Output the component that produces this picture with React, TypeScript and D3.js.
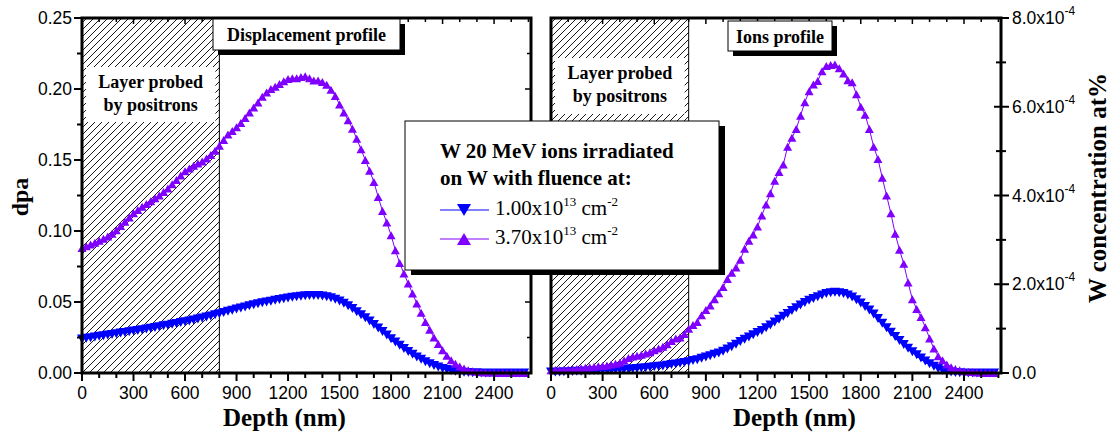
import React from 'react';
import * as d3 from 'd3';

// ---------- data ----------
const depth = [0,25,50,75,100,125,150,175,200,225,250,275,300,325,350,375,400,425,450,475,500,525,550,575,600,625,650,675,700,725,750,775,800,825,850,875,900,925,950,975,1000,1025,1050,1075,1100,1125,1150,1175,1200,1225,1250,1275,1300,1325,1350,1375,1400,1425,1450,1475,1500,1525,1550,1575,1600,1625,1650,1675,1700,1725,1750,1775,1800,1825,1850,1875,1900,1925,1950,1975,2000,2025,2050,2075,2100,2125,2150,2175,2200,2225,2250,2275,2300,2325,2350,2375,2400,2425,2450,2475,2500,2525,2550,2575];

// dpa, fluence 1.00e13
const dpaLow = [
  0.0240,0.0244,0.0249,0.0253,0.0258,0.0262,0.0267,0.0271,0.0276,0.0281,
  0.0286,0.0290,0.0295,0.0300,0.0305,0.0310,0.0315,0.0321,0.0326,0.0332,
  0.0337,0.0343,0.0349,0.0355,0.0361,0.0367,0.0374,0.0380,0.0387,0.0394,
  0.0402,0.0410,0.0418,0.0426,0.0434,0.0442,0.0450,0.0458,0.0465,0.0473,
  0.0480,0.0487,0.0494,0.0500,0.0506,0.0512,0.0518,0.0523,0.0528,0.0533,
  0.0537,0.0541,0.0544,0.0546,0.0546,0.0545,0.0542,0.0537,0.0530,0.0520,
  0.0507,0.0492,0.0474,0.0454,0.0432,0.0410,0.0389,0.0366,0.0342,0.0317,
  0.0292,0.0267,0.0242,0.0218,0.0195,0.0173,0.0152,0.0132,0.0113,0.0096,
  0.0080,0.0066,0.0053,0.0042,0.0032,0.0024,0.0017,0.0012,0.0008,0.0005,
  0.0003,0.0002,0.0001,0,0,0,0,0,0,0,
  0,0,0,0];
// dpa, fluence 3.70e13
const dpaHigh = [
  0.0880,0.0892,0.0905,0.0918,0.0932,0.0946,0.0962,0.0980,0.1005,0.1035,
  0.1065,0.1095,0.1125,0.1148,0.1170,0.1190,0.1210,0.1230,0.1250,0.1275,
  0.1300,0.1330,0.1360,0.1390,0.1420,0.1440,0.1460,0.1475,0.1490,0.1510,
  0.1535,0.1565,0.1600,0.1640,0.1680,0.1705,0.1730,0.1760,0.1795,0.1835,
  0.1870,0.1905,0.1945,0.1975,0.2000,0.2015,0.2035,0.2055,0.2070,0.2075,
  0.2075,0.2085,0.2090,0.2075,0.2060,0.2060,0.2050,0.2030,0.1995,0.1950,
  0.1890,0.1835,0.1780,0.1720,0.1650,0.1575,0.1500,0.1425,0.1345,0.1240,
  0.1140,0.1060,0.0970,0.0865,0.0775,0.0700,0.0630,0.0560,0.0490,0.0425,
  0.0360,0.0305,0.0250,0.0205,0.0160,0.0122,0.0090,0.0065,0.0045,0.0031,
  0.0020,0.0013,0.0008,0.0005,0.0003,0.0002,0.0001,0,0,0,
  0,0,0,0];
// W concentration (x1e-4 at%), fluence 1.00e13
const ionsLow = [
  0.02,0.02,0.025,0.03,0.03,0.035,0.04,0.04,0.045,0.05,
  0.05,0.055,0.06,0.065,0.07,0.075,0.08,0.085,0.09,0.095,
  0.10,0.11,0.12,0.13,0.14,0.15,0.16,0.175,0.19,0.205,
  0.22,0.235,0.255,0.28,0.30,0.33,0.36,0.39,0.42,0.45,
  0.49,0.54,0.59,0.65,0.71,0.76,0.81,0.86,0.91,0.96,
  1.02,1.08,1.15,1.21,1.28,1.34,1.41,1.47,1.53,1.59,
  1.64,1.68,1.72,1.76,1.79,1.81,1.82,1.81,1.79,1.76,
  1.71,1.65,1.58,1.50,1.42,1.33,1.23,1.12,1.02,0.92,
  0.82,0.73,0.64,0.56,0.48,0.41,0.34,0.27,0.21,0.15,
  0.10,0.06,0.035,0.02,0.01,0.005,0,0,0,0,
  0,0,0,0];
// W concentration (x1e-4 at%), fluence 3.70e13
const ionsHigh = [
  0.06,0.065,0.07,0.075,0.08,0.085,0.09,0.10,0.12,0.13,
  0.14,0.15,0.16,0.17,0.19,0.21,0.23,0.28,0.34,0.37,
  0.39,0.41,0.44,0.47,0.51,0.55,0.59,0.65,0.72,0.78,
  0.80,0.88,1.00,1.08,1.15,1.30,1.42,1.52,1.66,1.80,
  1.94,2.12,2.26,2.38,2.55,2.80,2.98,3.12,3.30,3.55,
  3.80,4.05,4.33,4.53,4.70,5.10,5.30,5.50,5.80,6.10,
  6.35,6.50,6.58,6.80,6.92,6.94,6.95,6.87,6.75,6.60,
  6.55,6.28,6.00,5.82,5.50,5.10,4.82,4.40,4.00,3.60,
  3.14,2.78,2.46,2.04,1.66,1.44,1.26,1.03,0.78,0.55,
  0.38,0.29,0.19,0.13,0.09,0.06,0.04,0.03,0.02,0.01,
  0.005,0,0,0];

const xTicks = [0,300,600,900,1200,1500,1800,2100,2400];
const xMinor = [0,100,200,300,400,500,600,700,800,900,1000,1100,1200,1300,1400,1500,1600,1700,1800,1900,2000,2100,2200,2300,2400,2500,2600];
const dpaTicks = [0,0.05,0.10,0.15,0.20,0.25];
const dpaTickLabels = ['0.00','0.05','0.10','0.15','0.20','0.25'];
const dpaMinor = [0.025,0.075,0.125,0.175,0.225];
const ionTicks = [0,2,4,6,8];
const ionTickLabels = ['0.0','2.0x10','4.0x10','6.0x10','8.0x10'];
const ionMinor = [1,3,5,7];
const probedDepth = 800;
const legendTitle = ['W 20 MeV ions irradiated','on W with fluence at:'];
const legendNames = ['1.00x10','3.70x10'];

// ---------- layout ----------
const SERIF = "'Liberation Serif','Times New Roman',serif";
const SANS = "'Liberation Sans',Arial,sans-serif";
const BLUE = '#0000ff';
const PURPLE = '#8000ff';
const Y0 = 18, Y1 = 373;
const XMAX = 2615;

function tri(x: number, y: number, up: boolean, w = 9, h = 8) {
  const a = w / 2, b = h / 2;
  return up
    ? `M${x - a},${y + b}L${x + a},${y + b}L${x},${y - b}Z`
    : `M${x - a},${y - b}L${x + a},${y - b}L${x},${y + b}Z`;
}

function Panel({ x0, x1, yScale, lowVals, highVals, rightAxis, labelY }: any) {
  const xs = d3.scaleLinear().domain([0, XMAX]).range([x0, x1]);
  const hx = xs(probedDepth);
  const line = d3.line<number>().x((_, i) => xs(depth[i])).y(d => yScale(d));
  const markers = (vals: number[], up: boolean, w: number, h: number) =>
    vals.map((v, i) => tri(xs(depth[i]), yScale(v), up, w, h)).join('');
  const minorY = rightAxis ? ionMinor : dpaMinor;
  const majorY = rightAxis ? ionTicks : dpaTicks;
  return (
    <g>
      <rect x={x0} y={Y0} width={hx - x0} height={Y1 - Y0} fill="url(#hatch)" stroke="#000" strokeWidth={1} />
      <rect x={x0 + 4} y={labelY[0]} width={hx - x0 - 8} height={labelY[1] - labelY[0]} fill="#fff" />
      <text x={(x0 + hx) / 2} y={labelY[0] + 21} textAnchor="middle" fontFamily={SERIF} fontWeight="bold" fontSize={18}>Layer probed</text>
      <text x={(x0 + hx) / 2} y={labelY[0] + 44} textAnchor="middle" fontFamily={SERIF} fontWeight="bold" fontSize={18}>by positrons</text>

      <path d={line(lowVals) || ''} fill="none" stroke={BLUE} strokeWidth={1} />
      <path d={markers(lowVals, false, 10, 9)} fill={BLUE} />
      <path d={line(highVals) || ''} fill="none" stroke={PURPLE} strokeWidth={1} />
      <path d={markers(highVals, true, 9, 8)} fill={PURPLE} />

      {/* frame */}
      <rect x={x0} y={Y0} width={x1 - x0} height={Y1 - Y0} fill="none" stroke="#000" strokeWidth={3} />
      {xMinor.filter(t => t <= XMAX).map(t => {
        const major = xTicks.includes(t);
        return (
          <g key={t}>
            <line x1={xs(t)} x2={xs(t)} y1={Y1} y2={Y1 + (major ? 8 : 5)} stroke="#000" strokeWidth={2} />
            <line x1={xs(t)} x2={xs(t)} y1={Y0} y2={Y0 + (major ? 6 : 4)} stroke="#000" strokeWidth={1.5} />
          </g>
        );
      })}
      {xTicks.map(t => (
        <text key={t} x={xs(t)} y={399} textAnchor="middle" fontFamily={SANS} fontSize={17.5}>{t}</text>
      ))}
      {!rightAxis && (
        <g>
          {majorY.map((t: number, i: number) => (
            <g key={t}>
              <line x1={x0 - 8} x2={x0} y1={yScale(t)} y2={yScale(t)} stroke="#000" strokeWidth={2} />
              <line x1={x1 - 6} x2={x1} y1={yScale(t)} y2={yScale(t)} stroke="#000" strokeWidth={1.5} />
              <text x={72} y={yScale(t) + 6} textAnchor="end" fontFamily={SANS} fontSize={17.5}>{dpaTickLabels[i]}</text>
            </g>
          ))}
          {minorY.map((t: number) => (
            <g key={t}>
              <line x1={x0 - 5} x2={x0} y1={yScale(t)} y2={yScale(t)} stroke="#000" strokeWidth={2} />
              <line x1={x1 - 4} x2={x1} y1={yScale(t)} y2={yScale(t)} stroke="#000" strokeWidth={1.5} />
            </g>
          ))}
        </g>
      )}
      {rightAxis && (
        <g>
          {majorY.map((t: number, i: number) => (
            <g key={t}>
              <line x1={x1 - 7} x2={x1 + 8} y1={yScale(t)} y2={yScale(t)} stroke="#000" strokeWidth={2} />
              <text x={x1 + 11} y={yScale(t) + 6} fontFamily={SANS} fontSize={17.5}>
                {ionTickLabels[i]}
                {t !== 0 && <tspan fontSize={12} dy={-9}>-4</tspan>}
              </text>
            </g>
          ))}
          {minorY.map((t: number) => (
            <line key={t} x1={x1 - 5} x2={x1 + 5} y1={yScale(t)} y2={yScale(t)} stroke="#000" strokeWidth={2} />
          ))}
        </g>
      )}
    </g>
  );
}

function TitleBox({ x, y, w, h, text }: any) {
  return (
    <g>
      <rect x={x + 5} y={y + 5} width={w} height={h} fill="#000" />
      <rect x={x} y={y} width={w} height={h} fill="#fff" stroke="#000" strokeWidth={1} />
      <text x={x + w / 2} y={y + 22} textAnchor="middle" fontFamily={SERIF} fontWeight="bold" fontSize={18}>{text}</text>
    </g>
  );
}

export default function App() {
  const yDpa = d3.scaleLinear().domain([0, 0.25]).range([Y1, Y0]);
  const yIon = d3.scaleLinear().domain([0, 8]).range([Y1, Y0]);
  const lg = { x: 405, y: 121, w: 314, h: 149 };
  return (
    <svg width={1110} height={432} style={{ position: 'absolute', left: 0, top: 0, background: '#fff' }}>
      <defs>
        <pattern id="hatch" patternUnits="userSpaceOnUse" width={7} height={7}>
          <path d="M-1,1 l2,-2 M0,7 l7,-7 M6,8 l2,-2" stroke="#000" strokeWidth={0.9} />
        </pattern>
      </defs>
      <rect width={1110} height={432} fill="#fff" />
      <Panel x0={82} x1={531} yScale={yDpa} lowVals={dpaLow} highVals={dpaHigh} rightAxis={false} labelY={[67, 122]} />
      <Panel x0={551} x1={1001} yScale={yIon} lowVals={ionsLow} highVals={ionsHigh} rightAxis={true} labelY={[58, 114]} />

      <TitleBox x={213} y={19} w={187} h={31} text="Displacement profile" />
      <TitleBox x={728} y={21} w={104} h={30} text="Ions profile" />

      <text transform="translate(28,197) rotate(-90)" textAnchor="middle" fontFamily={SERIF} fontWeight="bold" fontSize={24}>dpa</text>
      <text transform="translate(1106,188) rotate(-90)" textAnchor="middle" fontFamily={SERIF} fontWeight="bold" fontSize={25}>W concentration at%</text>
      <text x={223} y={426} fontFamily={SERIF} fontWeight="bold" fontSize={25}>Depth (nm)</text>
      <text x={733} y={426} fontFamily={SERIF} fontWeight="bold" fontSize={25}>Depth (nm)</text>

      <g>
        <rect x={lg.x + 6} y={lg.y + 5} width={lg.w} height={lg.h} fill="#000" />
        <rect x={lg.x} y={lg.y} width={lg.w} height={lg.h} fill="#fff" stroke="#000" strokeWidth={1} />
        {legendTitle.map((t, i) => (
          <text key={t} x={440} y={158 + i * 27} fontFamily={SERIF} fontWeight="bold" fontSize={21}>{t}</text>
        ))}
        {legendNames.map((n, i) => {
          const cy = 210 + i * 29;
          const color = i === 0 ? BLUE : PURPLE;
          return (
            <g key={n}>
              <line x1={440} x2={489} y1={cy} y2={cy} stroke={color} strokeWidth={1} />
              <path d={tri(464, cy, i === 1, 14, 12)} fill={color} />
              <text x={495} y={cy + 5} fontFamily={SERIF} fontSize={21}>
                {n}
                <tspan fontSize={13} dy={-9}>13</tspan>
                <tspan fontSize={21} dy={9}> cm</tspan>
                <tspan fontSize={13} dy={-9}>-2</tspan>
              </text>
            </g>
          );
        })}
      </g>
    </svg>
  );
}
